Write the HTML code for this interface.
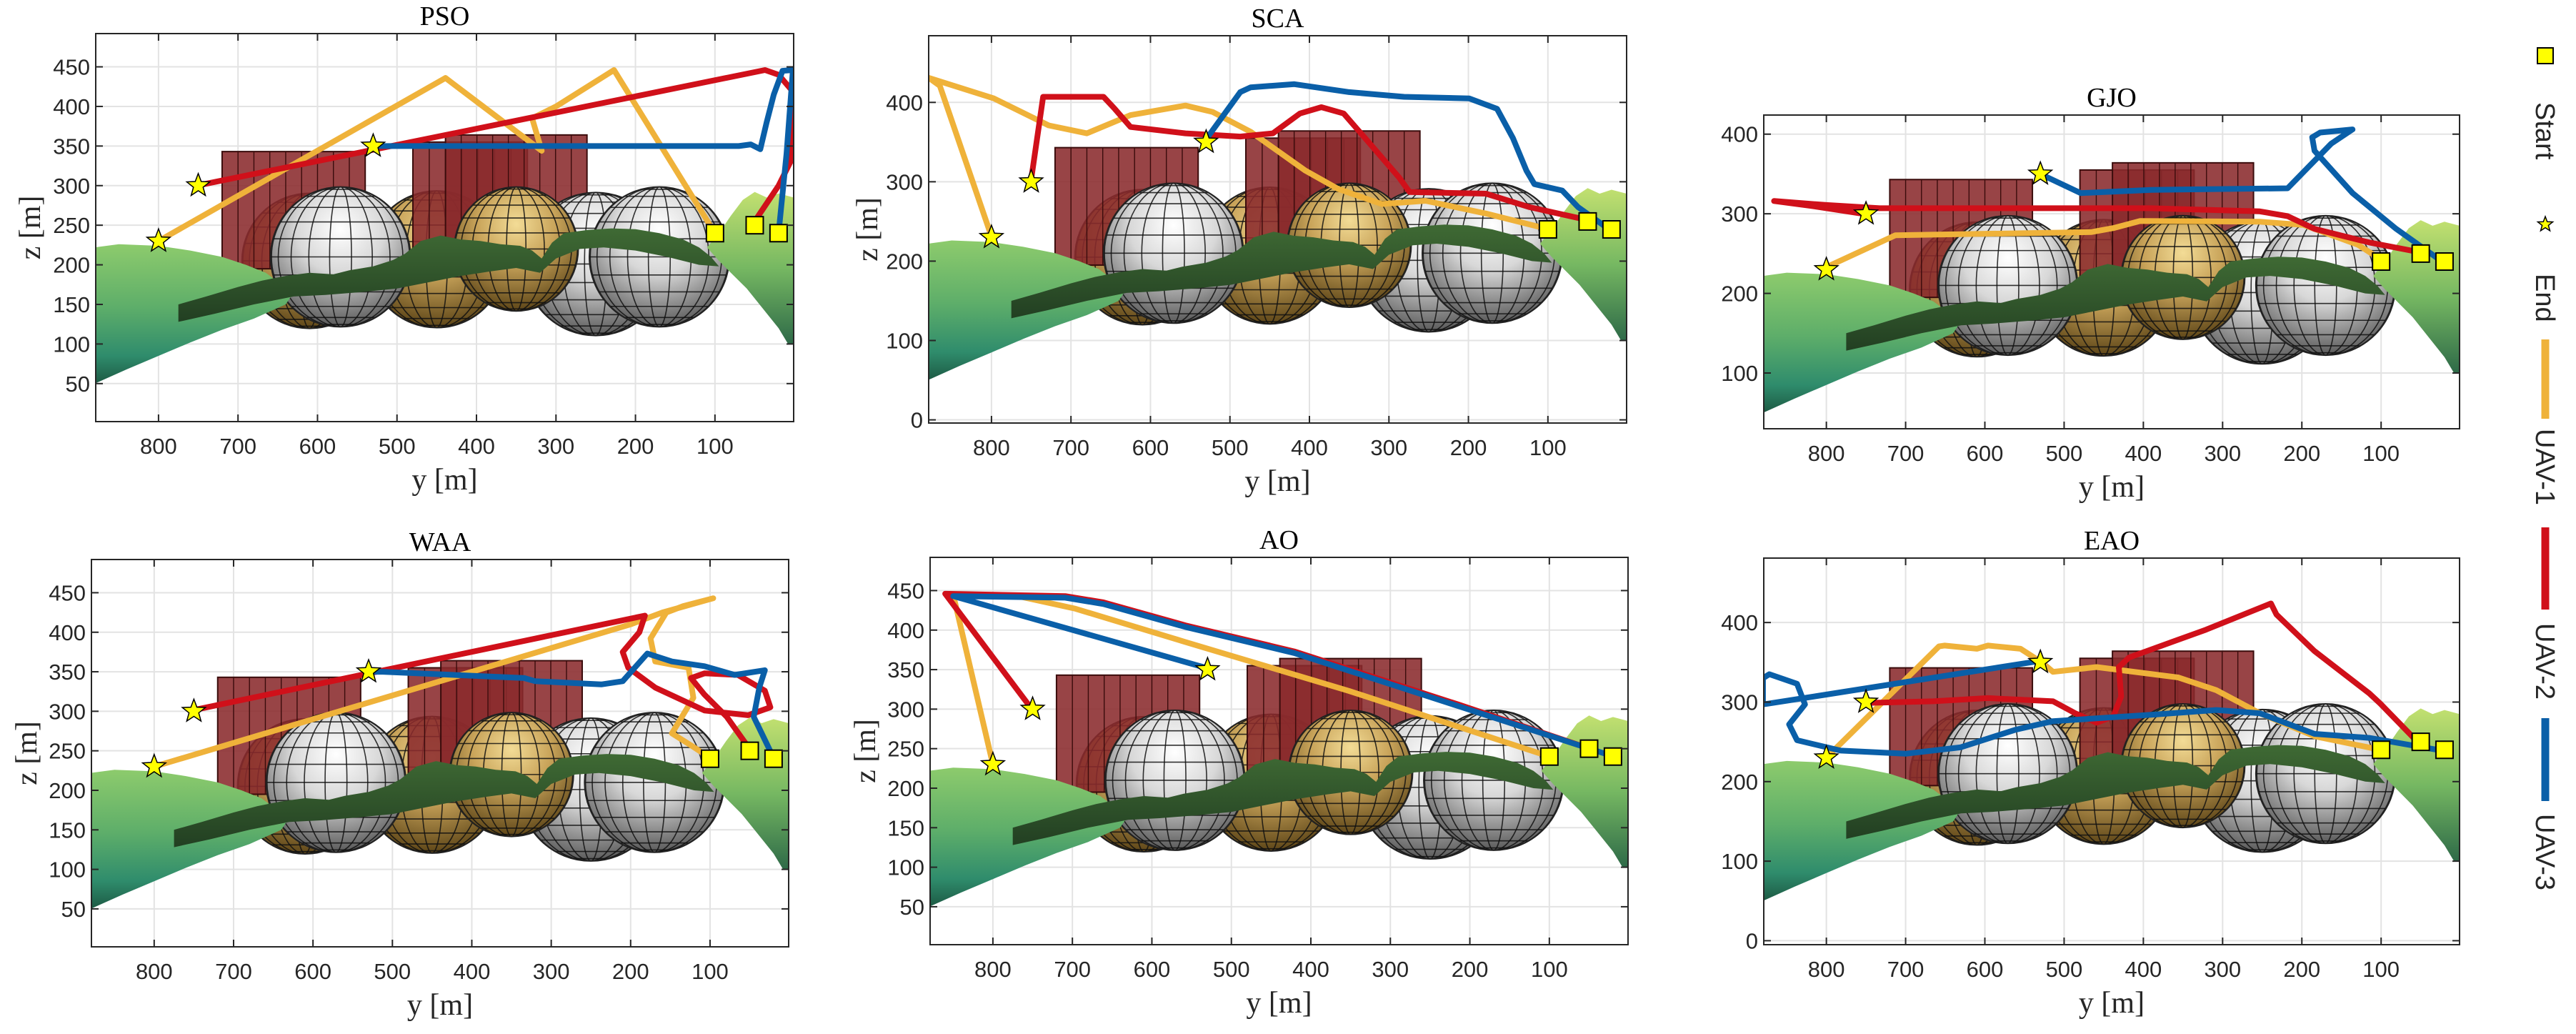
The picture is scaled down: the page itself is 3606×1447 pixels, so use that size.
<!DOCTYPE html>
<html><head><meta charset="utf-8"><title>UAV trajectories</title>
<style>
html,body{margin:0;padding:0;background:#fff;}
svg{display:block;}
.tick{font-family:"Liberation Sans Narrow","Liberation Sans",sans-serif;font-size:31px;fill:#262626;}
.ttl{font-family:"Liberation Serif",serif;font-size:38px;fill:#000;}
.lab{font-family:"Liberation Serif",serif;font-size:42px;fill:#262626;}
.leg{font-family:"Liberation Sans Narrow","Liberation Sans",sans-serif;font-size:38px;fill:#262626;}
</style></head>
<body>
<svg id="fig" xmlns="http://www.w3.org/2000/svg" width="3606" height="1447" viewBox="0 0 3606 1447">
<defs>
<radialGradient id="gGrey" cx="50%" cy="30%" r="70%"><stop offset="0" stop-color="#ffffff"/><stop offset="0.45" stop-color="#d8d8d8"/><stop offset="1" stop-color="#5a5a5a"/></radialGradient>
<radialGradient id="gGold" cx="50%" cy="30%" r="70%"><stop offset="0" stop-color="#f3dc96"/><stop offset="0.45" stop-color="#c9a45a"/><stop offset="1" stop-color="#5e4618"/></radialGradient>
<linearGradient id="gLeft" x1="0" y1="0" x2="0" y2="1"><stop offset="0" stop-color="#8dcb6c"/><stop offset="0.45" stop-color="#5eae6a"/><stop offset="0.8" stop-color="#2f8c6c"/><stop offset="1" stop-color="#1d5a44"/></linearGradient>
<linearGradient id="gRight" x1="0" y1="0" x2="0" y2="1"><stop offset="0" stop-color="#c2e070"/><stop offset="0.5" stop-color="#76b862"/><stop offset="1" stop-color="#2e6a48"/></linearGradient>
<linearGradient id="gRidge" x1="0" y1="0" x2="0" y2="1"><stop offset="0" stop-color="#3f6a34"/><stop offset="1" stop-color="#223f22"/></linearGradient>
</defs>
</svg>
<script>
// ---------- data (y [m], z [m]) ----------
const X_TICKS = [800,700,600,500,400,300,200,100];
const Z_TICKS_A = [50,100,150,200,250,300,350,400,450];
const Z_TICKS_B = [0,100,200,300,400];
const Z_TICKS_C = [100,200,300,400];
const PANEL_TITLES = ["PSO","SCA","GJO","WAA","AO","EAO"];
const PANEL_ZLIM = [[2,492],[-4,484],[30,424],[2,492],[2,492],[-5,481]];

const STARTS = [[100,240],[50,250],[20,240]];
const ENDS = [[800,230],[750,300],[530,350]];

// obstacles
const BOXES = [[720,540,195,343],[480,336,200,355],[439,261,205,364]];
const SPHERES_BACK = [[610,205,85,"gold"],[450,207,86,"gold"]];
const SPHERES_FRONT = [[571,210,88,"grey"],[250,201,90,"grey"],[350,220,78,"gold"],[170,210,88,"grey"]];
const TERRAIN_LEFT = [[880,222],[850,226],[800,224],[760,218],[720,210],[690,200],[665,190],[645,175],[630,165],[640,150],[680,132],[720,118],[760,102],[800,85],[840,68],[880,50]];
const TERRAIN_RIDGE = [[775,150],[740,160],[700,172],[670,180],[640,186],[610,190],[580,188],[560,193],[530,198],[505,206],[490,214],[470,230],[445,237],[420,232],[395,230],[370,226],[345,224],[330,218],[318,208],[305,228],[290,240],[260,244],[230,246],[200,245],[170,240],[140,232],[120,222],[105,210],[95,198],[120,200],[160,210],[200,218],[240,222],[270,220],[300,208],[320,190],[350,196],[380,192],[420,186],[460,178],[500,170],[540,166],[590,162],[630,160],[680,150],[730,138],[775,128]];
const TERRAIN_RIGHT = [[110,222],[95,240],[80,262],[65,282],[50,292],[35,285],[20,290],[1,285],[1,100],[8,100],[20,120],[40,145],[60,170],[80,190],[95,205]];

// trajectories
const PSO_U1 = [[100,240],[227,446],[300,400],[330,385],[318,344],[439,436],[800,230]];
const PSO_U2 = [[50,255],[20,300],[5,330],[1,380],[3,420],[20,440],[37,446],[752,300]];
const PSO_U3 = [[20,240],[10,340],[2,446],[15,445],[26,415],[35,380],[43,346],[55,352],[70,350],[320,350],[532,350]];
const SCA_U1 = [[110,243],[178,260],[254,276],[309,272],[364,291],[405,314],[474,363],[522,388],[556,396],[625,384],[680,361],[728,371],[797,405],[879,431],[865,421],[800,231]];
const SCA_U2 = [[51,252],[123,268],[178,285],[274,287],[287,305],[330,355],[357,386],[385,394],[412,386],[446,361],[487,357],[556,361],[625,369],[645,392],[659,407],[735,407],[750,303]];
const SCA_U3 = [[27,243],[62,268],[82,289],[117,297],[127,314],[144,355],[164,392],[199,405],[281,407],[350,413],[419,423],[474,419],[487,413],[529,355]];
const GJO_U1 = [[101,243],[129,261],[198,286],[253,290],[404,291],[438,282],[466,277],[713,273],[802,232]];
const GJO_U2 = [[53,252],[115,264],[184,281],[218,297],[253,303],[390,307],[733,307],[800,311],[866,316],[820,310],[754,300]];
const GJO_U3 = [[23,240],[81,281],[136,326],[184,379],[187,396],[177,402],[136,406],[163,388],[218,332],[390,330],[479,326],[528,349]];
const WAA_U1 = [[100,241],[121,255],[148,272],[121,317],[127,355],[169,363],[175,392],[155,425],[134,433],[96,443],[160,425],[200,410],[800,230]];
const WAA_U2 = [[52,255],[79,293],[107,321],[124,342],[107,348],[65,346],[31,326],[24,305],[52,295],[107,301],[169,330],[203,355],[210,375],[189,400],[182,421],[753,301]];
const WAA_U3 = [[21,243],[45,293],[38,330],[31,352],[69,346],[107,357],[148,363],[179,373],[210,338],[237,334],[320,338],[334,342],[512,350],[530,350]];
const AO_U1 = [[100,240],[352,323],[558,385],[696,427],[764,442],[850,445],[800,230]];
const AO_U2 = [[55,252],[215,306],[421,373],[558,406],[661,435],[709,443],[860,446],[751,300]];
const AO_U3 = [[25,242],[215,304],[421,371],[558,404],[661,433],[709,441],[850,443],[531,352]];
const EAO_U1 = [[101,240],[184,257],[253,286],[308,315],[356,331],[459,344],[514,338],[527,349],[555,367],[596,371],[610,367],[651,371],[658,370],[800,230]];
const EAO_U2 = [[53,249],[101,298],[115,311],[184,364],[232,410],[239,424],[321,391],[418,356],[431,344],[428,307],[438,282],[459,274],[486,286],[514,301],[596,305],[665,301],[747,299]];
const EAO_U3 = [[23,239],[115,255],[184,260],[253,286],[308,290],[390,284],[514,276],[562,265],[631,243],[700,235],[782,239],[837,252],[847,272],[827,297],[837,323],[872,335],[880,330],[880,297],[803,309],[720,322],[535,351]];

const TRAJ = [[PSO_U1,PSO_U2,PSO_U3],[SCA_U1,SCA_U2,SCA_U3],[GJO_U1,GJO_U2,GJO_U3],[WAA_U1,WAA_U2,WAA_U3],[AO_U1,AO_U2,AO_U3],[EAO_U1,EAO_U2,EAO_U3]];
const ZTICKSETS = [Z_TICKS_A,Z_TICKS_B,Z_TICKS_C,Z_TICKS_A,Z_TICKS_A,Z_TICKS_B];
const UAV_COLORS = ["#efb23a","#d0101a","#0a5fa8"];

// ---------- layout ----------
const LAYOUT = [[134,47,1111,590],[1300,50,2277,592],[2469,161,3443,600],[128,783,1104,1325],[1302,780,2279,1322],[2469,781,3443,1322]];
const ZLABEL_X = [42,1214,null,37,1211,null];
const Y_MIN = 1, Y_MAX = 879;

const NS = "http://www.w3.org/2000/svg";
const svg = document.getElementById("fig");
function mk(tag, attrs, parent){const e=document.createElementNS(NS,tag);for(const k in attrs)e.setAttribute(k,attrs[k]);if(parent)parent.appendChild(e);return e;}

function starPts(cx,cy,R){let p=[];for(let i=0;i<10;i++){const a=-Math.PI/2+i*Math.PI/5;const r=i%2?R*0.42:R;p.push((cx+r*Math.cos(a)).toFixed(1)+","+(cy+r*Math.sin(a)).toFixed(1));}return p.join(" ");}

PANEL_TITLES.forEach((title,pi)=>{
  const [L,T,R,B]=LAYOUT[pi];
  const [zmin,zmax]=PANEL_ZLIM[pi];
  const sx = y => L + (Y_MAX - y)/(Y_MAX-Y_MIN)*(R-L);
  const sz = z => B - (z - zmin)/(zmax-zmin)*(B-T);
  const kx = (R-L)/(Y_MAX-Y_MIN);
  const g = mk("g",{},svg);
  
  
  const cid="clip"+pi;
  const cp=mk("clipPath",{id:cid},svg.querySelector("defs"));
  mk("rect",{x:L,y:T,width:R-L,height:B-T},cp);
  mk("rect",{x:L,y:T,width:R-L,height:B-T,fill:"#fff"},g);
  const grid=mk("g",{stroke:"#e3e3e3","stroke-width":2},g);
  
  
  X_TICKS.forEach(v=>mk("line",{x1:sx(v),x2:sx(v),y1:T,y2:B},grid));
  ZTICKSETS[pi].forEach(v=>mk("line",{x1:L,x2:R,y1:sz(v),y2:sz(v)},grid));
  const scene=mk("g",{"clip-path":"url(#"+cid+")"},g);
  
  
  function sphere(s){
    const [y,z,r,type]=s;const cx=sx(y),cy=sz(z),rr=r*kx;
    const sg=mk("g",{},scene);
    
    
    const id="sc"+pi+"_"+y;
    const c=mk("clipPath",{id:id},svg.querySelector("defs"));
    mk("circle",{cx:cx,cy:cy,r:rr},c);
    mk("circle",{cx:cx,cy:cy,r:rr,fill:type==="gold"?"url(#gGold)":"url(#gGrey)"},sg);
    const lg=mk("g",{"clip-path":"url(#"+id+")",stroke:"#111","stroke-width":1.6,fill:"none","stroke-opacity":0.85},sg);
    for(let k=1;k<12;k++){const zz=cy-rr*Math.cos(k*Math.PI/12);mk("line",{x1:cx-rr,x2:cx+rr,y1:zz,y2:zz},lg);}
    for(let k=0;k<5;k++){const rx=rr*Math.sin((k+0.5)*Math.PI/10);mk("ellipse",{cx:cx,cy:cy,rx:rx,ry:rr},lg);}
    mk("circle",{cx:cx,cy:cy,r:rr,fill:"none",stroke:"#222","stroke-width":2},sg);
  }
  SPHERES_BACK.forEach(sphere);
  BOXES.forEach((b,bi)=>{
    const [y1,y2,z1,z2]=b;const x1=sx(y1),x2=sx(y2),t=sz(z2),bt=sz(z1);
    const bg=mk("g",{},scene);
    
    
    mk("rect",{x:x1,y:t,width:x2-x1,height:bt-t,fill:"#8a2a2c","fill-opacity":0.88,stroke:"#3a0c0c","stroke-width":2},bg);
    const n=Math.round((x2-x1)/22);
    for(let i=1;i<n;i++){const xx=x1+i*(x2-x1)/n;mk("line",{x1:xx,x2:xx,y1:t,y2:bt,stroke:"#3a0c0c","stroke-width":1.4},bg);}
  });
  SPHERES_FRONT.forEach(sphere);
  const poly=(arr,fill,name)=>{const p=mk("polygon",{points:arr.map(q=>sx(q[0]).toFixed(1)+","+sz(q[1]).toFixed(1)).join(" "),fill:fill},scene);
    
    };
  poly(TERRAIN_LEFT,"url(#gLeft)","terrain-left");
  poly(TERRAIN_RIGHT,"url(#gRight)","terrain-right");
  poly(TERRAIN_RIDGE,"url(#gRidge)","terrain-ridge");
  TRAJ[pi].forEach((tr,ui)=>{
    const pl=mk("polyline",{points:tr.map(q=>sx(q[0]).toFixed(1)+","+sz(q[1]).toFixed(1)).join(" "),fill:"none",stroke:UAV_COLORS[ui],"stroke-width":8,"stroke-linejoin":"round","stroke-linecap":"round"},scene);
    
    
  });
  STARTS.forEach((s,i)=>{
    const r=mk("rect",{x:sx(s[0])-12,y:sz(s[1])-12,width:24,height:24,fill:"#ffff00",stroke:"#000","stroke-width":2},scene);
    
    
  });
  ENDS.forEach((s,i)=>{
    const p=mk("polygon",{points:starPts(sx(s[0]),sz(s[1]),17),fill:"#ffff00",stroke:"#000","stroke-width":1.5},scene);
    
    
  });
  const ax=mk("g",{stroke:"#262626","stroke-width":2,fill:"none"},g);
  
  
  mk("rect",{x:L,y:T,width:R-L,height:B-T},ax);
  X_TICKS.forEach(v=>{mk("line",{x1:sx(v),x2:sx(v),y1:B,y2:B-10},ax);mk("line",{x1:sx(v),x2:sx(v),y1:T,y2:T+10},ax);});
  ZTICKSETS[pi].forEach(v=>{mk("line",{x1:L,x2:L+10,y1:sz(v),y2:sz(v)},ax);mk("line",{x1:R,x2:R-10,y1:sz(v),y2:sz(v)},ax);});
  X_TICKS.forEach(v=>{const t=mk("text",{x:sx(v),y:B+45,"text-anchor":"middle",class:"tick"},g);t.textContent=v;
    
    });
  ZTICKSETS[pi].forEach(v=>{const t=mk("text",{x:L-8,y:sz(v)+11,"text-anchor":"end",class:"tick"},g);t.textContent=v;
    
    });
  const tt=mk("text",{x:(L+R)/2,y:T-12,"text-anchor":"middle",class:"ttl"},g);tt.textContent=title;
  
  
  const xl=mk("text",{x:(L+R)/2,y:B+95,"text-anchor":"middle",class:"lab"},g);xl.textContent="y [m]";
  
  
  if(ZLABEL_X[pi]!==null){
    const zx=ZLABEL_X[pi]+14, zy=(T+B)/2;
    const zl=mk("text",{x:zx,y:zy,"text-anchor":"middle",class:"lab",transform:"rotate(-90 "+zx+" "+zy+")"},g);zl.textContent="z [m]";
    
    
  }
});

// ---------- legend ----------
const LEG_LABELS = ["Start","End","UAV-1","UAV-2","UAV-3"];
const lg=mk("g",{},svg);


const LX=3563;
const sq=mk("rect",{x:LX-11,y:67,width:22,height:22,fill:"#ffff00",stroke:"#000","stroke-width":2},lg);


const st=mk("polygon",{points:starPts(LX,314,11),fill:"#ffff00",stroke:"#000","stroke-width":1.5},lg);


[[475,586],[738,853],[1005,1121]].forEach((s,i)=>{
  const l=mk("line",{x1:LX,x2:LX,y1:s[0],y2:s[1],stroke:UAV_COLORS[i],"stroke-width":11},lg);
  
  
});
[143,383,600,872,1139].forEach((y,i)=>{
  const t=mk("text",{x:0,y:0,class:"leg",transform:"translate(3550 "+y+") rotate(90)"},lg);
  t.textContent=LEG_LABELS[i];
  
  
});
</script>
</body></html>
